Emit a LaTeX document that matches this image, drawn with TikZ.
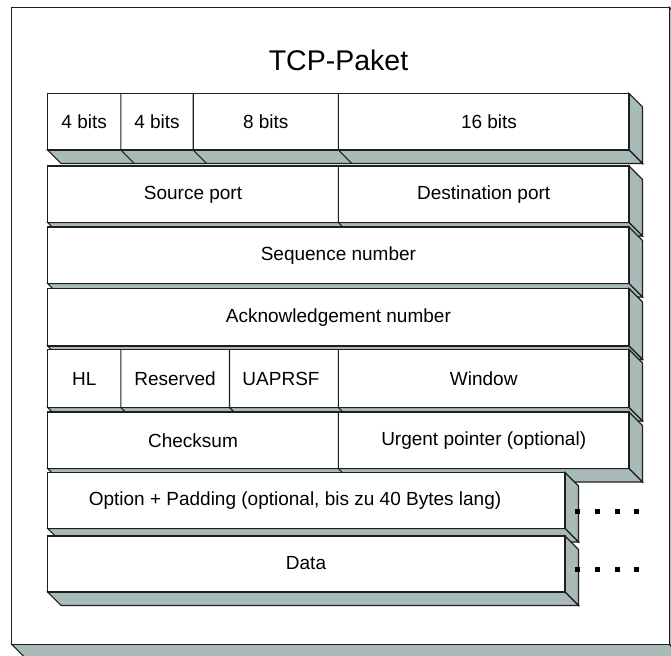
\documentclass[tikz,border=0pt]{standalone}
\usepackage{fontspec}
\setmainfont{Liberation Sans}
\definecolor{sidegray}{RGB}{168,187,185}
\definecolor{edge}{RGB}{30,30,30}
\tikzset{
  face/.style={fill=sidegray, draw=edge, line width=1.1pt, line join=miter},
  front/.style={fill=white, draw=edge, line width=1.1pt},
  divider/.style={draw=edge, line width=1.1pt},
  lbl/.style={font=\fontsize{19}{22}\selectfont, inner sep=0pt},
  title/.style={font=\fontsize{28.5}{34}\selectfont, inner sep=0pt},
  dot/.style={fill=black, minimum size=5pt, inner sep=0pt, draw=none, rectangle},
}
% one raised block: left, top, right, bottom (pixels, y downwards)
\newcommand\slab[4]{%
  \draw[face] (#3,#2) -- ++(\dd,\dd) -- ({#3+\dd},{#4+\dd}) -- (#3,#4) -- cycle;
  \draw[face] (#1,#4) -- (#3,#4) -- ({#3+\dd},{#4+\dd}) -- ({#1+\dd},{#4+\dd}) -- cycle;
  \draw[front] (#1,#2) rectangle (#3,#4);
}
% vertical cell divider, continued across the lower face: x, top, bottom
\newcommand\cellsep[3]{%
  \draw[divider] (#1,#2) -- (#1,#3) -- ++(\dd,\dd);
}
\begin{document}
\begin{tikzpicture}[x=1pt,y=-1pt]
\def\dd{13.5}
\useasboundingbox (0,0) rectangle (671,655);
\clip (0,0) rectangle (671,655);

% outer frame
\draw[face] (669.3,7.3) -- ++(\dd,\dd) -- ({669.3+\dd},{644.3+\dd}) -- (669.3,644.3) -- cycle;
\draw[face] (11.7,644.3) -- (669.3,644.3) -- ({669.3+\dd},{644.3+\dd}) -- ({11.7+\dd},{644.3+\dd}) -- cycle;
\draw[front] (11.7,7.3) rectangle (669.3,644.3);

\node[title] (ttl) at (338.5,60.5) {TCP-Paket};

% bit widths
\slab{47.7}{93.3}{629}{150}
\cellsep{120.8}{93.3}{150}
\cellsep{193.2}{93.3}{150}
\cellsep{338.4}{93.3}{150}
\node[lbl] (b1) at (84.2,122) {4 bits};
\node[lbl] (b2) at (157,122) {4 bits};
\node[lbl] (b3) at (265.8,122) {8 bits};
\node[lbl] (b4) at (489,122) {16 bits};

% ports
\slab{47.7}{166}{629}{222.5}
\cellsep{338.4}{166}{222.5}
\node[lbl] (srcp) at (193,194.5) {Source port};
\node[lbl] (dstp) at (483.7,194.5) {Destination port};

% sequence number
\slab{47.7}{227}{629}{283.5}
\node[lbl] (seq) at (338.4,255.5) {Sequence number};

% acknowledgement number
\slab{47.7}{288.5}{629}{346}
\node[lbl] (ack) at (338.4,317.5) {Acknowledgement number};

% header length, reserved, flags, window
\slab{47.7}{349.5}{629}{407.5}
\cellsep{120.8}{349.5}{407.5}
\cellsep{229.5}{349.5}{407.5}
\cellsep{338.4}{349.5}{407.5}
\node[lbl] (hl) at (84.2,378.5) {HL};
\node[lbl] (res) at (175,378.5) {Reserved};
\node[lbl] (flg) at (281,378.5) {UAPRSF};
\node[lbl] (win) at (483.7,378.5) {Window};

% checksum, urgent pointer
\slab{47.7}{412}{629}{468.5}
\cellsep{338.4}{412}{468.5}
\node[lbl] (chk) at (193,440.5) {Checksum};
\node[lbl] (urg) at (483.7,440.5) {Urgent pointer (optional)};

% options
\slab{47.7}{472.5}{565}{528.5}
\node[lbl] (opt) at (295,500.5) {Option + Padding (optional, bis zu 40 Bytes lang)};
\foreach \x [count=\i] in {577,597,617,636}
  \node[dot] (od\i) at (\x,511) {};

% payload
\slab{47.7}{536}{565}{592}
\node[lbl] (dat) at (306,563.5) {Data};
\foreach \x [count=\i] in {577,597,617,636}
  \node[dot] (dd\i) at (\x,569.5) {};
\end{tikzpicture}
\end{document}
